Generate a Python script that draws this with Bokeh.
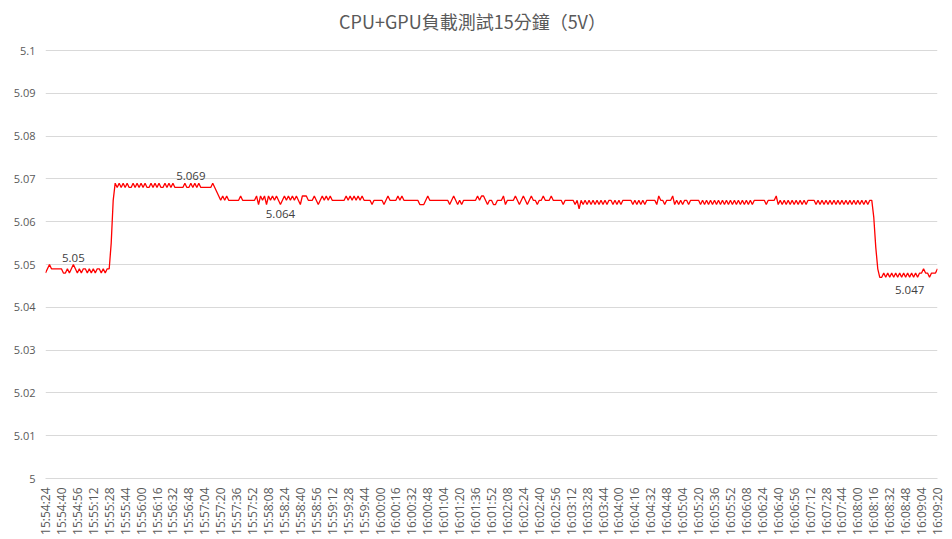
import math
from bokeh.plotting import figure
from bokeh.models import Range1d, FixedTicker, Label
from bokeh.embed import file_html
from bokeh.resources import INLINE

# Voltage readings, one every 2 s from 15:54:24 to 16:09:20
volts = [
    5.048, 5.049, 5.050, 5.049, 5.049, 5.049, 5.049, 5.049, 5.049, 5.048,
    5.048, 5.049, 5.048, 5.049, 5.050, 5.049, 5.048, 5.049, 5.048, 5.049,
    5.049, 5.048, 5.049, 5.048, 5.049, 5.048, 5.049, 5.049, 5.048, 5.049,
    5.048, 5.049, 5.049, 5.055, 5.065, 5.069, 5.068, 5.069, 5.068, 5.069,
    5.068, 5.069, 5.068, 5.068, 5.069, 5.068, 5.069, 5.068, 5.069, 5.068,
    5.069, 5.068, 5.068, 5.069, 5.068, 5.069, 5.068, 5.069, 5.068, 5.068,
    5.069, 5.068, 5.069, 5.068, 5.069, 5.068, 5.068, 5.068, 5.068, 5.068,
    5.069, 5.068, 5.068, 5.069, 5.068, 5.069, 5.068, 5.069, 5.068, 5.068,
    5.068, 5.068, 5.068, 5.068, 5.069, 5.068, 5.067, 5.066, 5.065, 5.066,
    5.065, 5.066, 5.065, 5.065, 5.065, 5.065, 5.065, 5.065, 5.066, 5.065,
    5.065, 5.065, 5.065, 5.065, 5.065, 5.065, 5.066, 5.064, 5.066, 5.065,
    5.066, 5.064, 5.066, 5.065, 5.066, 5.065, 5.066, 5.065, 5.064, 5.065,
    5.066, 5.065, 5.066, 5.065, 5.066, 5.065, 5.066, 5.065, 5.064, 5.066,
    5.066, 5.066, 5.065, 5.065, 5.065, 5.066, 5.065, 5.064, 5.065, 5.066,
    5.065, 5.066, 5.065, 5.066, 5.065, 5.065, 5.065, 5.065, 5.065, 5.065,
    5.065, 5.066, 5.065, 5.066, 5.065, 5.066, 5.065, 5.066, 5.065, 5.066,
    5.065, 5.065, 5.065, 5.065, 5.064, 5.065, 5.065, 5.065, 5.065, 5.065,
    5.064, 5.065, 5.066, 5.065, 5.065, 5.065, 5.065, 5.066, 5.065, 5.066,
    5.065, 5.065, 5.065, 5.065, 5.065, 5.065, 5.065, 5.065, 5.064, 5.064,
    5.064, 5.065, 5.066, 5.065, 5.065, 5.065, 5.065, 5.065, 5.065, 5.065,
    5.065, 5.065, 5.065, 5.064, 5.065, 5.066, 5.065, 5.064, 5.065, 5.064,
    5.065, 5.065, 5.065, 5.065, 5.065, 5.065, 5.065, 5.066, 5.065, 5.066,
    5.066, 5.065, 5.064, 5.065, 5.065, 5.064, 5.064, 5.065, 5.065, 5.065,
    5.066, 5.064, 5.065, 5.065, 5.065, 5.065, 5.066, 5.065, 5.064, 5.065,
    5.066, 5.065, 5.064, 5.065, 5.066, 5.065, 5.065, 5.064, 5.065, 5.065,
    5.066, 5.065, 5.065, 5.065, 5.066, 5.065, 5.065, 5.065, 5.065, 5.065,
    5.064, 5.065, 5.065, 5.065, 5.065, 5.065, 5.064, 5.065, 5.063, 5.065,
    5.064, 5.065, 5.064, 5.065, 5.064, 5.065, 5.064, 5.065, 5.064, 5.065,
    5.064, 5.065, 5.064, 5.065, 5.065, 5.064, 5.065, 5.064, 5.065, 5.064,
    5.065, 5.065, 5.065, 5.065, 5.065, 5.064, 5.065, 5.064, 5.065, 5.064,
    5.065, 5.064, 5.065, 5.065, 5.065, 5.065, 5.065, 5.064, 5.066, 5.065,
    5.065, 5.064, 5.065, 5.065, 5.065, 5.066, 5.064, 5.065, 5.064, 5.065,
    5.064, 5.065, 5.065, 5.064, 5.065, 5.065, 5.065, 5.065, 5.065, 5.064,
    5.065, 5.064, 5.065, 5.064, 5.065, 5.064, 5.065, 5.064, 5.065, 5.064,
    5.065, 5.064, 5.065, 5.064, 5.065, 5.064, 5.065, 5.064, 5.065, 5.064,
    5.065, 5.064, 5.065, 5.064, 5.065, 5.064, 5.065, 5.065, 5.065, 5.065,
    5.065, 5.065, 5.064, 5.065, 5.065, 5.065, 5.065, 5.066, 5.064, 5.065,
    5.064, 5.065, 5.064, 5.065, 5.064, 5.065, 5.064, 5.065, 5.064, 5.065,
    5.064, 5.065, 5.064, 5.065, 5.065, 5.065, 5.065, 5.064, 5.065, 5.064,
    5.065, 5.064, 5.065, 5.064, 5.065, 5.064, 5.065, 5.064, 5.065, 5.064,
    5.065, 5.064, 5.065, 5.064, 5.065, 5.064, 5.065, 5.064, 5.065, 5.064,
    5.065, 5.064, 5.065, 5.064, 5.065, 5.065, 5.061, 5.054, 5.049, 5.047,
    5.047, 5.048, 5.047, 5.048, 5.047, 5.048, 5.047, 5.048, 5.047, 5.048,
    5.047, 5.048, 5.047, 5.048, 5.047, 5.048, 5.047, 5.048, 5.047, 5.048,
    5.048, 5.049, 5.048, 5.048, 5.047, 5.048, 5.048, 5.048, 5.049,
]
sample_index = list(range(len(volts)))

# Category tick labels (every 8th sample = 16 s)
tick_positions = list(range(0, len(volts), 8))
tick_labels = [
    "15:54:24", "15:54:40", "15:54:56", "15:55:12", "15:55:28", "15:55:44",
    "15:56:00", "15:56:16", "15:56:32", "15:56:48", "15:57:04", "15:57:20",
    "15:57:36", "15:57:52", "15:58:08", "15:58:24", "15:58:40", "15:58:56",
    "15:59:12", "15:59:28", "15:59:44", "16:00:00", "16:00:16", "16:00:32",
    "16:00:48", "16:01:04", "16:01:20", "16:01:36", "16:01:52", "16:02:08",
    "16:02:24", "16:02:40", "16:02:56", "16:03:12", "16:03:28", "16:03:44",
    "16:04:00", "16:04:16", "16:04:32", "16:04:48", "16:05:04", "16:05:20",
    "16:05:36", "16:05:52", "16:06:08", "16:06:24", "16:06:40", "16:06:56",
    "16:07:12", "16:07:28", "16:07:44", "16:08:00", "16:08:16", "16:08:32",
    "16:08:48", "16:09:04", "16:09:20",
]

y_ticks = [5.0, 5.01, 5.02, 5.03, 5.04, 5.05, 5.06, 5.07, 5.08, 5.09, 5.1]
y_tick_labels = ["5", "5.01", "5.02", "5.03", "5.04", "5.05", "5.06", "5.07", "5.08", "5.09", "5.1"]

# Annotated points: (sample index, text, placed above?)
note_idx = [14, 73, 118, 434]
note_txt = ["5.05", "5.069", "5.064", "5.047"]
note_above = [True, True, False, False]
note_gap = [3, 3, 5, 9]

TITLE = "CPU+GPU負載測試15分鐘（5V）"
FONT = "Open Sans"
GREY = "#595959"

W, H = 952, 539
LEFT, RIGHT, BOTTOM = 45, 15, 61
PLOT_TOP = 50                      # pixel row of the 5.1 gridline
frame_h = H - BOTTOM               # frame spans to the top so the title can sit inside it
y_lo, y_hi = y_ticks[0], y_ticks[-1]
y_top = y_lo + (y_hi - y_lo) * frame_h / (frame_h - PLOT_TOP)

p = figure(width=W, height=H, output_backend="svg", toolbar_location=None,
           x_range=Range1d(0, len(volts) - 1), y_range=Range1d(y_lo, y_top),
           min_border_left=LEFT, min_border_right=RIGHT, min_border_top=0,
           min_border_bottom=BOTTOM)
p.outline_line_color = None
p.background_fill_color = "white"
p.border_fill_color = "white"

p.line(sample_index, volts, line_color="#ff0000", line_width=1.3)

# axes
p.xaxis.ticker = FixedTicker(ticks=tick_positions)
p.xaxis.major_label_overrides = {i: s for i, s in zip(tick_positions, tick_labels)}
p.xaxis.major_label_orientation = math.pi / 2
p.xaxis.major_label_text_font = FONT
p.xaxis.major_label_text_font_size = "12px"
p.xaxis.major_label_text_color = GREY
p.xaxis.major_tick_out = 0
p.xaxis.major_tick_in = 0
p.xaxis.major_label_standoff = 9
p.xaxis.axis_line_color = "#d9d9d9"
p.xaxis.major_tick_line_color = None
p.xaxis.minor_tick_line_color = None

p.yaxis.ticker = FixedTicker(ticks=y_ticks)
p.yaxis.major_label_overrides = {v: s for v, s in zip(y_ticks, y_tick_labels)}
p.yaxis.major_label_text_font = FONT
p.yaxis.major_label_text_font_size = "11px"
p.yaxis.major_label_text_color = GREY
p.yaxis.major_tick_out = 0
p.yaxis.major_tick_in = 0
p.yaxis.major_label_standoff = 10
p.yaxis.axis_line_color = None
p.yaxis.major_tick_line_color = None
p.yaxis.minor_tick_line_color = None

p.xgrid.grid_line_color = None
p.ygrid.grid_line_color = "#d9d9d9"
p.ygrid.grid_line_width = 1

for i, t, up, gap in zip(note_idx, note_txt, note_above, note_gap):
    p.add_layout(Label(x=i, y=volts[i], text=t, text_align="center",
                       text_baseline="bottom" if up else "top",
                       y_offset=gap if up else -gap,
                       text_font=FONT, text_font_size="11.5px", text_color="#404040"))

# chart title (screen units measured from the frame's bottom-left corner)
p.add_layout(Label(x=472 - LEFT, y=frame_h - 20, x_units="screen", y_units="screen",
                   text=TITLE, text_align="center", text_baseline="middle",
                   text_font="Noto Sans CJK TC", text_font_size="18px", text_color=GREY))

open("out.html", "w").write(file_html(p, INLINE))
